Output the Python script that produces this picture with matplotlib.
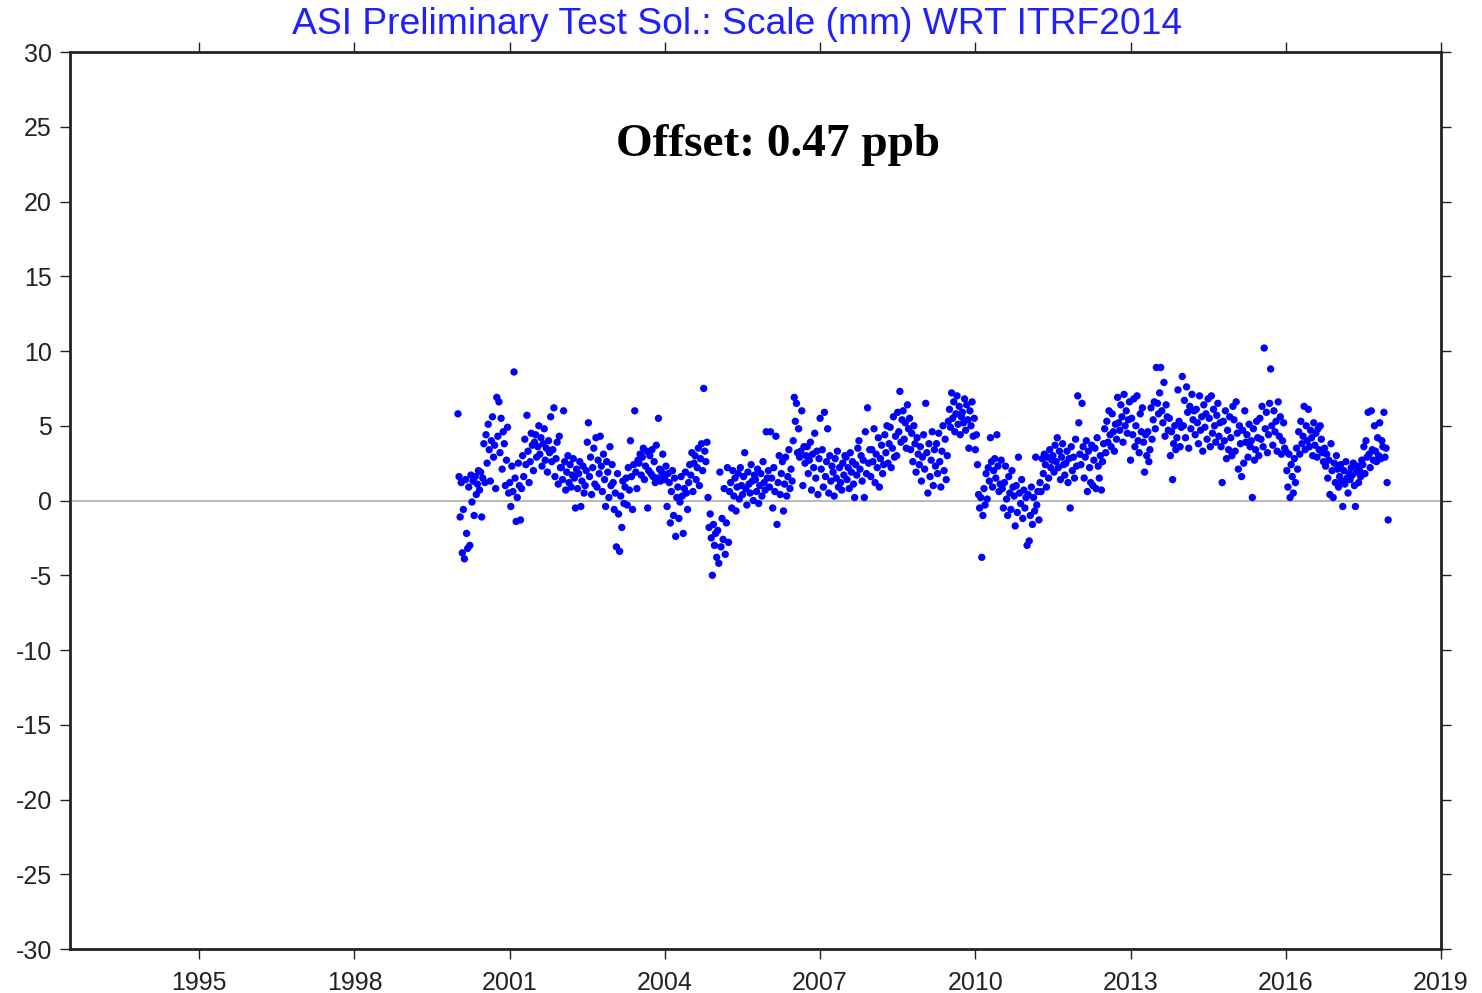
import numpy as np
import matplotlib.pyplot as plt

plt.rcParams['axes.unicode_minus'] = False

# weekly scale residuals (mm), one list per year
scale = {
    2000: [5.8, 1.6, -1.1, 1.2, -3.5, -0.6, -3.9, 1.4, -2.2, -3.2, 0.9, -3.0,
           1.7, -0.1, 1.3, -1.0, 1.6, 0.4, 1.1, 2.0, 0.7, 1.9, -1.1, 1.5,
           3.8, 1.2, 4.4, 2.5, 5.1, 3.4, 1.3, 4.0, 5.6, 2.9, 3.7, 0.8,
           6.9, 4.3, 6.6, 3.2, 5.5, 2.1, 4.6, 3.8, 1.0, 2.7, 4.9, 0.5],
    2001: [1.2, -0.4, 2.3, 0.6, 8.6, 1.5, -1.4, 0.2, 2.5, 1.0, -1.3, 0.8,
           3.0, 1.6, 4.1, 2.4, 5.7, 3.3, 1.2, 2.6, 4.5, 3.7, 2.0, 3.9,
           4.4, 2.9, 3.6, 5.0, 3.1, 4.2, 2.3, 3.8, 4.8, 2.7, 3.5, 1.9,
           4.0, 3.2, 5.6, 2.6, 3.4, 6.2, 1.6, 2.8, 3.9, 1.1, 4.3, 2.2],
    2002: [2.2, 1.4, 6.0, 2.6, 0.7, 1.9, 3.0, 1.2, 2.4, 0.9, 1.7, 2.8,
           1.5, -0.5, 2.1, 0.8, 1.8, 2.6, -0.4, 1.3, 2.3, 0.5, 1.0, 2.0,
           3.9, 5.2, 1.6, 2.9, 0.4, 2.2, 3.5, 1.1, 4.2, 0.9, 2.7, 1.8,
           4.3, 2.3, 0.6, 3.1, 1.4, -0.4, 2.6, 1.9, 0.2, 3.6, 1.0, 2.4],
    2003: [1.2, -0.6, 0.5, -3.1, 1.8, -0.9, -3.4, 0.3, -1.8, 1.3, -0.2, 0.9,
           1.5, -0.3, 2.2, 0.7, 4.0, 1.6, -0.6, 2.4, 6.0, 1.9, 0.8, 2.7,
           2.5, 3.1, 1.7, 2.9, 3.5, 1.4, 2.3, 3.3, -0.5, 2.0, 3.0, 1.8,
           3.4, 1.6, 2.6, 1.2, 3.7, 1.5, 5.5, 2.1, 1.3, 1.9, 3.1, 1.6],
    2004: [1.4, 2.3, -0.4, 1.8, 1.2, -1.5, 0.6, 2.0, -1.0, 1.5, -2.4, 0.2,
           0.9, -1.2, -0.1, 1.6, 0.3, -2.2, 0.8, 1.9, 0.5, -0.6, 1.2, 2.4,
           1.7, 3.2, 0.6, 2.5, 3.0, 1.4, 2.2, 3.5, 1.0, 2.8, 3.8, 2.0,
           7.5, 3.3, 2.6, 3.9, 0.2, -1.8, -0.9, -2.5, -5.0, -1.6, -3.0, -2.2],
    2005: [-3.8, -2.0, -4.2, 1.9, -3.1, -1.2, -2.6, 0.8, -3.6, -1.5, 2.2, -2.8,
           0.6, 1.2, -0.5, 2.0, 0.3, 1.5, -0.7, 0.9, 1.8, 0.1, 2.2, 1.0,
           0.4, 1.6, 3.2, 0.8, -0.3, 1.9, 1.1, 0.5, 2.4, 1.3, 0.0, 1.7,
           1.4, 0.6, 2.1, -0.2, 1.0, 1.8, 0.3, 2.6, 1.2, 0.7, 4.6, 1.5],
    2006: [2.0, 0.9, 4.6, 1.5, -0.5, 2.2, 0.6, 4.3, -1.6, 1.2, 3.0, 0.4,
           1.8, 2.6, -0.7, 1.1, 2.9, 0.3, 1.6, 3.4, 0.8, 2.1, 1.3, 4.0,
           6.9, 5.3, 6.5, 3.2, 4.8, 2.9, 3.3, 6.0, 1.0, 3.6, 2.5, 3.0,
           3.6, 1.8, 2.7, 3.9, 0.7, 3.1, 2.2, 4.5, 1.5, 3.3, 0.4, 2.8],
    2007: [5.5, 2.1, 3.4, 0.9, 5.9, 1.6, 2.6, 4.8, 0.5, 3.0, 1.3, 2.3,
           1.9, 0.3, 2.8, 1.5, 3.3, 0.9, 2.2, 1.2, 0.7, 2.5, 1.7, 3.0,
           2.9, 1.4, 2.2, 0.8, 3.2, 1.9, 2.6, 1.1, 0.2, 2.4, 1.7, 3.5,
           4.0, 2.1, 3.0, 1.3, 2.7, 0.2, 4.6, 1.8, 6.2, 2.5, 3.4, 1.6],
    2008: [3.4, 2.6, 4.8, 1.2, 3.1, 2.2, 4.2, 0.9, 2.8, 3.7, 1.8, 2.4,
           4.4, 3.2, 5.0, 2.5, 3.8, 4.9, 2.2, 3.5, 5.6, 2.9, 4.3, 3.0,
           5.9, 4.6, 7.3, 3.9, 5.4, 6.0, 4.1, 5.2, 3.5, 6.4, 4.8, 5.5,
           3.4, 4.5, 2.6, 5.0, 3.8, 1.9, 4.2, 3.1, 2.4, 3.6, 1.3, 2.9],
    2009: [4.4, 2.1, 6.5, 3.2, 0.5, 3.8, 1.6, 2.7, 4.6, 1.0, 3.4, 2.3,
           3.8, 1.8, 4.5, 2.6, 0.9, 3.3, 5.0, 2.0, 4.1, 1.4, 3.0, 5.3,
           6.1, 4.9, 7.2, 5.5, 6.6, 4.6, 5.8, 7.0, 5.1, 6.3, 4.4, 5.6,
           5.9, 5.2, 6.8, 4.7, 6.4, 5.4, 3.5, 6.0, 5.0, 6.6, 4.3, 5.5],
    2010: [3.4, 4.4, 2.4, 0.4, -0.5, 0.2, -3.8, -1.0, 0.8, -0.3, 1.8, 0.1,
           2.2, 1.3, 4.2, 2.6, 0.9, 2.0, 2.8, 1.5, 4.4, 2.3, 0.6, 1.1,
           2.7, 0.8, -0.5, 1.2, 2.3, 0.1, -1.0, 1.6, 0.5, -0.6, 2.0, 0.9,
           0.3, -1.7, 1.0, -0.8, 2.9, 0.5, -0.2, 1.4, -1.2, 0.7, -0.5, 0.2],
    2011: [-3.0, 0.4, -2.7, -1.0, 0.9, -1.6, 0.2, -0.7, 2.9, -0.3, 0.6, -1.3,
           1.2, 0.6, 2.8, 1.8, 3.1, 2.4, 0.9, 2.9, 1.5, 3.4, 2.2, 2.7,
           3.0, 1.9, 3.7, 2.6, 4.2, 2.2, 3.3, 1.4, 2.9, 3.8, 2.4, 1.7,
           2.5, 3.3, 1.2, 2.8, -0.5, 3.6, 2.0, 2.9, 1.5, 4.1, 2.3, 7.0],
    2012: [5.2, 3.1, 2.4, 6.5, 3.6, 1.5, 2.9, 4.0, 0.6, 3.3, 2.2, 1.2,
           3.7, 1.0, 2.7, 3.5, 0.8, 4.2, 2.3, 1.5, 3.0, 0.7, 2.6, 3.8,
           4.8, 3.2, 5.3, 3.9, 6.0, 4.4, 3.6, 5.8, 4.6, 3.3, 5.1, 4.1,
           6.9, 5.2, 4.7, 6.4, 5.6, 3.9, 7.1, 5.0, 6.0, 4.5, 5.4, 6.6],
    2013: [2.7, 5.5, 4.4, 6.8, 3.6, 5.0, 7.0, 4.0, 3.2, 5.8, 4.6, 6.2,
           3.9, 1.9, 4.4, 3.0, 4.6, 2.6, 3.4, 6.2, 4.1, 5.4, 6.6, 4.8,
           8.9, 6.5, 5.8, 7.2, 8.9, 6.0, 5.2, 7.9, 4.3, 6.4, 5.6, 4.7,
           5.5, 3.0, 4.6, 1.4, 3.8, 5.0, 3.4, 4.2, 7.4, 5.3, 3.6, 4.9],
    2014: [8.3, 5.0, 6.7, 4.2, 7.6, 5.9, 3.5, 6.3, 4.8, 7.1, 5.4, 6.0,
           4.4, 6.1, 5.2, 3.8, 7.0, 4.7, 5.6, 3.3, 6.4, 4.9, 5.8, 4.1,
           6.8, 5.5, 3.6, 7.0, 4.5, 6.1, 5.0, 3.9, 5.7, 6.5, 4.3, 5.2,
           3.6, 1.2, 5.3, 4.0, 6.0, 2.8, 4.7, 3.4, 5.6, 4.2, 3.0, 6.3],
    2015: [5.4, 3.3, 6.6, 4.5, 2.1, 5.0, 3.8, 1.6, 4.7, 2.5, 6.0, 3.9,
           4.4, 2.9, 5.1, 3.6, 4.0, 0.2, 4.8, 2.7, 3.4, 5.3, 4.2, 3.0,
           5.5, 4.1, 6.3, 3.6, 10.2, 4.8, 5.9, 3.2, 4.4, 6.5, 8.8, 5.0,
           3.7, 6.0, 4.6, 5.3, 3.3, 6.6, 4.3, 5.6, 3.1, 4.0, 5.2, 3.5],
    2016: [3.3, 2.0, 0.9, 3.1, 0.2, 2.4, 1.6, 0.5, 2.8, 1.2, 3.5, 2.1,
           4.6, 3.1, 5.3, 3.8, 4.3, 6.3, 3.4, 5.0, 4.0, 6.1, 3.6, 4.7,
           4.2, 3.0, 5.2, 3.7, 4.5, 2.9, 4.8, 3.4, 5.0, 4.1, 3.2, 2.6,
           3.5, 2.3, 3.1, 1.5, 2.7, 0.4, 3.8, 2.0, 0.2, 2.5, 1.2, 3.0],
    2017: [2.1, 0.9, 1.6, 2.4, 1.3, -0.4, 2.0, 1.1, 2.6, 1.5, 0.5, 1.8,
           1.4, 2.2, 1.7, 2.5, 1.0, -0.4, 1.9, 2.3, 1.2, 2.0, 1.6, 2.7,
           2.4, 3.6, 1.8, 4.0, 2.9, 5.9, 3.1, 2.2, 6.0, 3.4, 2.7, 5.0,
           3.3, 2.6, 4.2, 3.0, 5.2, 2.8, 4.0, 3.6, 5.9, 2.9, 3.5, 1.2, -1.3],
}

xticks = list(range(1995, 2020, 3))
yticks = list(range(-30, 31, 5))

t = []
v = []
for yr, vals in scale.items():
    n = len(vals)
    for i, val in enumerate(vals):
        t.append(yr + i / n)
        v.append(val)

fig = plt.figure(figsize=(14.82, 9.93), dpi=100)
ax = fig.add_axes([0.0472, 0.0443, 0.9251, 0.9033])

ax.axhline(0, color='#b4b4b4', lw=1.3, zorder=1)
ax.scatter(t, v, s=28, color='#0000ff', edgecolors='none', zorder=3)

ax.set_xlim(1992.5, 2019)
ax.set_ylim(-30, 30)
ax.set_xticks(xticks)
ax.set_yticks(yticks)
ax.tick_params(direction='out', length=7, width=1, top=True, right=True,
               labeltop=False, labelright=False, labelsize=18, colors='#222222')
ax.tick_params(axis='x', pad=9)
ax.tick_params(axis='y', pad=6)
for lab in ax.get_xticklabels() + ax.get_yticklabels():
    lab.set_family('Liberation Sans')
for sp in ax.spines.values():
    sp.set_linewidth(2)
    sp.set_color('#222222')

fig.text(0.4976, 0.975, 'ASI Preliminary Test Sol.: Scale (mm) WRT ITRF2014',
         ha='center', va='center', color='#2020ff', fontsize=26.8,
         family='Liberation Sans')
ax.text(0.5165, 0.896, 'Offset: 0.47 ppb', transform=ax.transAxes,
        ha='center', va='center', fontsize=34, fontweight='bold',
        family='Liberation Serif')

fig.savefig('out.png', dpi=100)
